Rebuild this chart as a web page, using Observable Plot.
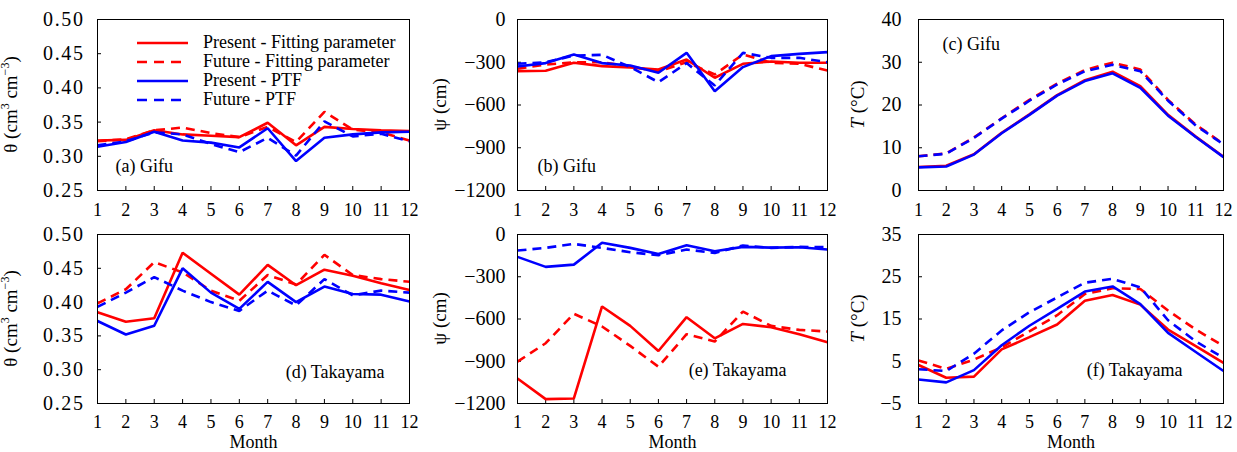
<!DOCTYPE html>
<html>
<head>
<meta charset="utf-8">
<script src="https://cdn.jsdelivr.net/npm/d3@7"></script>
<script src="https://cdn.jsdelivr.net/npm/@observablehq/plot@0.6"></script>
<style>
  html, body { margin: 0; padding: 0; background: #fff; }
  #chart { position: relative; width: 1237px; height: 452px; font-family: "Liberation Serif", "Times New Roman", serif; }
  #chart svg.plot { position: absolute; overflow: visible; }
  #legend { position: absolute; left: 137px; top: 33px; font-size: 18px; line-height: 19px; color: #000; font-family: "Liberation Serif", "Times New Roman", serif; }
  #legend .row { display: flex; align-items: center; height: 19px; white-space: nowrap; }
  #legend svg { margin-right: 15px; }
</style>
</head>
<body>
<div id="chart"></div>
<script>
// ---------- data ----------
const months = [1, 2, 3, 4, 5, 6, 7, 8, 9, 10, 11, 12];

// (a) Gifu – soil water content θ
const gifuThetaPresentFit = [0.323, 0.324, 0.338, 0.332, 0.330, 0.328, 0.349, 0.316, 0.343, 0.340, 0.338, 0.337];
const gifuThetaFutureFit  = [0.322, 0.325, 0.338, 0.342, 0.334, 0.328, 0.343, 0.321, 0.365, 0.339, 0.335, 0.323];
const gifuThetaPresentPTF = [0.314, 0.321, 0.336, 0.323, 0.320, 0.313, 0.341, 0.293, 0.327, 0.332, 0.335, 0.336];
const gifuThetaFuturePTF  = [0.316, 0.322, 0.335, 0.332, 0.318, 0.306, 0.327, 0.301, 0.351, 0.329, 0.333, 0.322];

// (b) Gifu – pressure head ψ
const gifuPsiPresentFit = [-362, -360, -304, -327, -337, -351, -281, -409, -311, -295, -304, -304];
const gifuPsiFutureFit  = [-346, -316, -300, -300, -330, -365, -300, -386, -245, -304, -311, -358];
const gifuPsiPresentPTF = [-330, -306, -246, -306, -323, -374, -234, -503, -334, -257, -241, -229];
const gifuPsiFuturePTF  = [-311, -300, -253, -248, -334, -440, -306, -463, -234, -269, -269, -300];

// (c) Gifu – temperature T
const gifuTPresentFit = [5.5, 5.8, 8.5, 13.5, 17.8, 22.3, 25.8, 27.8, 24.4, 17.7, 12.6, 7.9];
const gifuTFutureFit  = [8.0, 8.7, 12.4, 16.9, 21.2, 25.0, 28.2, 29.9, 28.3, 21.2, 15.4, 10.9];
const gifuTPresentPTF = [5.4, 5.6, 8.4, 13.4, 17.7, 22.2, 25.6, 27.4, 24.0, 17.5, 12.5, 7.8];
const gifuTFuturePTF  = [8.0, 8.6, 12.3, 16.8, 21.0, 24.8, 27.9, 29.4, 27.9, 21.0, 15.2, 10.8];

// (d) Takayama – soil water content θ
const takaThetaPresentFit = [0.385, 0.371, 0.376, 0.473, 0.442, 0.411, 0.455, 0.425, 0.448, 0.439, 0.428, 0.418];
const takaThetaFutureFit  = [0.398, 0.419, 0.459, 0.444, 0.417, 0.402, 0.440, 0.426, 0.470, 0.440, 0.434, 0.430];
const takaThetaPresentPTF = [0.372, 0.352, 0.365, 0.450, 0.414, 0.390, 0.430, 0.400, 0.423, 0.412, 0.411, 0.401];
const takaThetaFuturePTF  = [0.393, 0.414, 0.437, 0.417, 0.400, 0.387, 0.417, 0.395, 0.434, 0.410, 0.417, 0.414];

// (e) Takayama – pressure head ψ
const takaPsiPresentFit = [-1022, -1169, -1164, -511, -649, -827, -587, -737, -635, -658, -708, -765];
const takaPsiFutureFit  = [-903, -772, -563, -653, -791, -939, -708, -760, -547, -649, -677, -689];
const takaPsiPresentPTF = [-159, -230, -214, -59, -95, -138, -76, -119, -88, -93, -90, -107];
const takaPsiFuturePTF  = [-114, -95, -67, -95, -126, -147, -107, -131, -78, -95, -88, -90];

// (f) Takayama – temperature T
const takaTPresentFit = [4.1, 1.1, 1.35, 7.8, 10.7, 13.7, 19.3, 20.7, 18.4, 12.5, 8.6, 4.6];
const takaTFutureFit  = [5.2, 3.2, 5.4, 8.3, 12.1, 15.9, 20.9, 22.3, 22.1, 17.0, 12.5, 8.6];
const takaTPresentPTF = [0.7, 0.0, 2.9, 8.8, 13.4, 17.4, 21.5, 22.7, 18.5, 11.7, 7.2, 2.7];
const takaTFuturePTF  = [3.1, 2.7, 6.8, 12.3, 16.6, 20.1, 23.6, 24.5, 22.5, 14.7, 9.7, 5.8];

// tick labels / domains
const thetaTicks = [0.25, 0.30, 0.35, 0.40, 0.45, 0.50];
const psiTicks = [-1200, -900, -600, -300, 0];
const gifuTTicks = [0, 10, 20, 30, 40];
const takaTTicks = [-5, 5, 15, 25, 35];

const seriesNames = ["Present - Fitting parameter", "Future - Fitting parameter", "Present - PTF", "Future - PTF"];
const seriesColors = ["#ff0000", "#ff0000", "#0000ff", "#0000ff"];
const seriesDash = [null, "9,6", null, "9,6"];

// ---------- layout ----------
const FONT = "'Liberation Serif', 'Times New Roman', serif";
const cols = [
  {left: 0,   width: 414, ml: 97,  mr: 5,  pad: 13, ylx: 13, spacing: "1.6px"},
  {left: 414, width: 418, ml: 103, mr: 5,  pad: 12, ylx: 28, spacing: "0px"},
  {left: 832, width: 405, ml: 86,  mr: 14, pad: 17, ylx: 28, spacing: "0px"}
];
const rows = [
  {top: 0,   height: 220, mt: 19, mb: 30, xpad: 13, xlabel: null},
  {top: 215, height: 237, mt: 19, mb: 49, xpad: 12, xlabel: "Month"}
];

const panels = [
  {r: 0, c: 0, ys: [gifuThetaPresentFit, gifuThetaFutureFit, gifuThetaPresentPTF, gifuThetaFuturePTF], ticks: thetaTicks, fmt: d3.format(".2f"), ylab: "theta", tag: "(a) Gifu", anchor: "bottom-left", dx: 18, dy: -24},
  {r: 0, c: 1, ys: [gifuPsiPresentFit, gifuPsiFutureFit, gifuPsiPresentPTF, gifuPsiFuturePTF], ticks: psiTicks, fmt: d3.format("d"), ylab: "psi", tag: "(b) Gifu", anchor: "bottom-left", dx: 20, dy: -24},
  {r: 0, c: 2, ys: [gifuTPresentFit, gifuTFutureFit, gifuTPresentPTF, gifuTFuturePTF], ticks: gifuTTicks, fmt: d3.format("d"), ylab: "T", tag: "(c) Gifu", anchor: "top-left", dx: 24, dy: 25},
  {r: 1, c: 0, ys: [takaThetaPresentFit, takaThetaFutureFit, takaThetaPresentPTF, takaThetaFuturePTF], ticks: thetaTicks, fmt: d3.format(".2f"), ylab: "theta", tag: "(d) Takayama", anchor: "bottom-right", dx: -25, dy: -31},
  {r: 1, c: 1, ys: [takaPsiPresentFit, takaPsiFutureFit, takaPsiPresentPTF, takaPsiFuturePTF], ticks: psiTicks, fmt: d3.format("d"), ylab: "psi", tag: "(e) Takayama", anchor: "bottom-right", dx: -41, dy: -33},
  {r: 1, c: 2, ys: [takaTPresentFit, takaTFutureFit, takaTPresentPTF, takaTFuturePTF], ticks: takaTTicks, fmt: d3.format("d"), ylab: "T", tag: "(f) Takayama", anchor: "bottom-right", dx: -41, dy: -33}
];

const chart = document.getElementById("chart");

for (const p of panels) {
  const col = cols[p.c], row = rows[p.r];
  const plotW = col.width - col.ml - col.mr;
  const plotH = row.height - row.mt - row.mb;
  const data = [];
  p.ys.forEach((arr, si) => arr.forEach((v, i) => data.push({month: months[i], value: v, series: si})));

  const lineMarks = seriesNames.map((name, si) =>
    Plot.line(data.filter(d => d.series === si), {
      x: "month", y: "value",
      stroke: seriesColors[si], strokeWidth: 2.6,
      strokeDasharray: seriesDash[si] || undefined,
      strokeLinejoin: "miter", strokeLinecap: "butt"
    })
  );

  const svg = Plot.plot({
    width: col.width, height: row.height,
    marginLeft: col.ml, marginRight: col.mr, marginTop: row.mt, marginBottom: row.mb,
    style: {fontFamily: FONT, fontSize: "18px", color: "#000", background: "transparent", overflow: "visible"},
    x: {domain: [1, 12]},
    y: {domain: [p.ticks[0], p.ticks[p.ticks.length - 1]]},
    marks: [
      Plot.axisX({ticks: months, tickSize: 0, tickPadding: row.xpad, tickFormat: d3.format("d"),
        label: row.xlabel, labelAnchor: "center", labelArrow: "none", labelOffset: 44, fontSize: 18}),
      Plot.axisY({ticks: p.ticks, tickSize: 0, tickPadding: col.pad, tickFormat: p.fmt, label: null, fontSize: 20}),
      Plot.ruleX(months, {x: d => d, insetTop: plotH - 4, stroke: "#000"}),
      Plot.ruleY(p.ticks, {y: d => d, insetRight: plotW - 4, stroke: "#000"}),
      ...lineMarks,
      Plot.frame({stroke: "#000", strokeWidth: 1}),
      Plot.text([p.tag], {text: d => d, frameAnchor: p.anchor, dx: p.dx, dy: p.dy,
        textAnchor: p.anchor.endsWith("right") ? "end" : "start", lineAnchor: "middle", fontSize: 18, fill: "#000"})
    ]
  });
  svg.classList.add("plot");
  svg.style.left = col.left + "px";
  svg.style.top = row.top + "px";
  svg.style.fontFamily = FONT;

  // widen the θ tick labels slightly, as in the reference
  d3.select(svg).selectAll("g[aria-label='y-axis tick label'] text").style("letter-spacing", col.spacing);

  // y-axis title with super-scripts / italics
  const cy = row.mt + plotH / 2;
  const t = d3.select(svg).append("text")
    .attr("transform", `translate(${col.ylx},${cy}) rotate(-90)`)
    .attr("text-anchor", "middle")
    .attr("dominant-baseline", "middle")
    .style("font-family", FONT).attr("font-size", 19).attr("fill", "#000");
  if (p.ylab === "theta") {
    t.append("tspan").text("θ (cm");
    t.append("tspan").text("3").attr("font-size", 12).attr("dy", -7);
    t.append("tspan").text(" cm").attr("dy", 7);
    t.append("tspan").text("−3").attr("font-size", 12).attr("dy", -7);
    t.append("tspan").text(")").attr("dy", 7);
  } else if (p.ylab === "psi") {
    t.append("tspan").text("ψ (cm)");
  } else {
    t.append("tspan").text("T").attr("font-style", "italic");
    t.append("tspan").text(" (°C)");
  }
  chart.appendChild(svg);
}

// legend (inside panel a)
const legend = document.createElement("div");
legend.id = "legend";
seriesNames.forEach((name, si) => {
  const row = document.createElement("div");
  row.className = "row";
  const dash = seriesDash[si] ? `stroke-dasharray="10,7"` : "";
  row.innerHTML = `<svg width="51" height="6"><line x1="0" x2="51" y1="3" y2="3" stroke="${seriesColors[si]}" stroke-width="2.6" ${dash}></line></svg><span>${name}</span>`;
  legend.appendChild(row);
});
chart.appendChild(legend);
</script>
</body>
</html>
